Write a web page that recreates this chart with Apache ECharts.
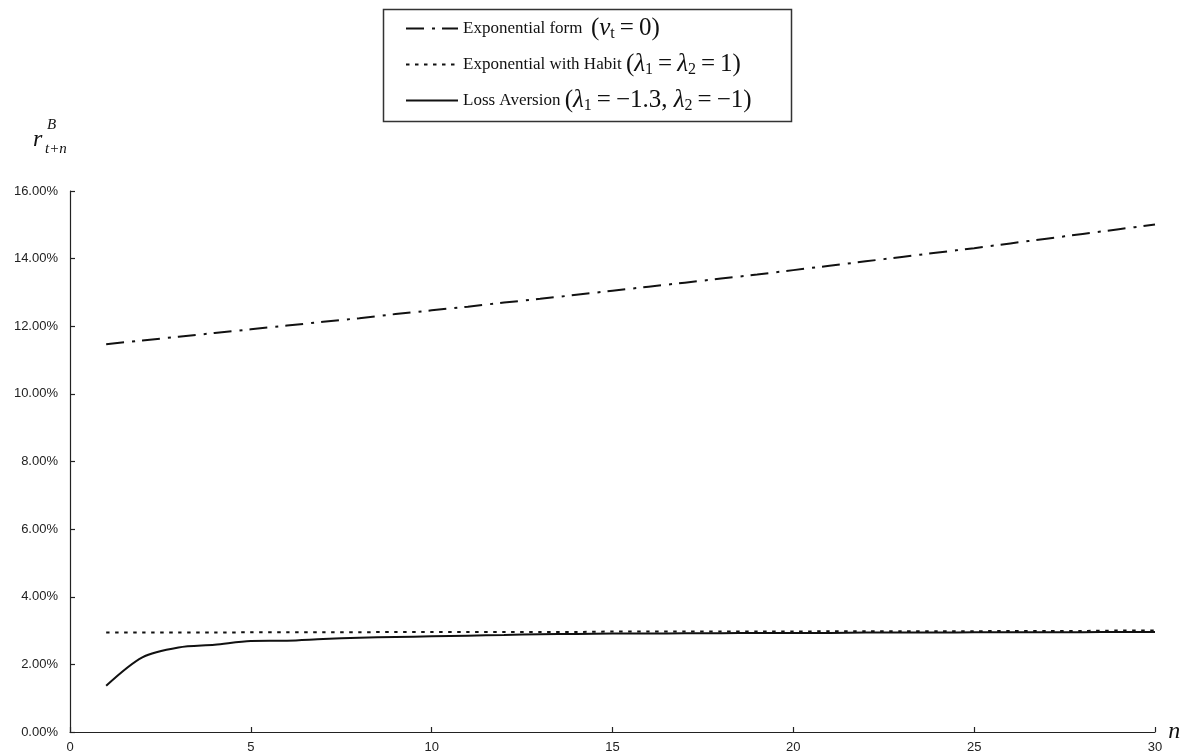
<!DOCTYPE html>
<html>
<head>
<meta charset="utf-8">
<script src="https://cdn.jsdelivr.net/npm/echarts@6/dist/echarts.min.js"></script>
<style>
html,body{margin:0;padding:0;background:#fff;}
#chart{width:1186px;height:756px;}
</style>
</head>
<body>
<div id="chart"></div>
<script>
// ---- data ----
const horizons = [1,2,3,4,5,6,7,8,9,10,11,12,13,14,15,16,17,18,19,20,21,22,23,24,25,26,27,28,29,30];
const exponentialForm = [11.47,11.58,11.69,11.80,11.91,12.02,12.13,12.24,12.36,12.47,12.58,12.70,12.81,12.93,13.05,13.17,13.29,13.41,13.53,13.66,13.79,13.92,14.05,14.18,14.31,14.45,14.59,14.73,14.87,15.01];
const habitForm = [2.94,2.94,2.94,2.94,2.95,2.95,2.95,2.95,2.96,2.96,2.96,2.96,2.96,2.96,2.97,2.97,2.97,2.97,2.97,2.97,2.98,2.98,2.98,2.98,2.98,2.99,2.99,2.99,3.00,3.00];
const lossAversion = [1.37,2.21,2.50,2.58,2.69,2.70,2.75,2.79,2.81,2.83,2.85,2.87,2.89,2.90,2.91,2.91,2.92,2.92,2.93,2.93,2.93,2.94,2.94,2.94,2.95,2.95,2.95,2.95,2.96,2.96];
const seriesNames = ['exp','habit','loss'];
const yTickLabels = v => v.toFixed(2) + '%';

const pairs = arr => horizons.map((n,i) => [n, arr[i]]);

const legendText = {
  exp:   '{t|Exponential form  }{m|(}{i|v}{s|t}{e|=}{m|0)}',
  habit: '{t|Exponential with Habit }{m|(}{i|λ}{s|1}{e|=}{i|λ}{s|2}{e|=}{m|1)}',
  loss:  '{t|Loss Aversion }{m|(}{i|λ}{s|1}{e|=}{m|−1.3, }{i|λ}{s|2}{e|=}{m|−1)}'
};

const serif = '"Liberation Serif", "DejaVu Serif", serif';
const ink = '#111';

const chart = echarts.init(document.getElementById('chart'), null, {renderer:'canvas'});
chart.setOption({
  animation: false,
  backgroundColor: '#fff',
  grid: {left: 70, right: 31, top: 191, bottom: 24, containLabel: false},
  xAxis: {
    type: 'value', min: 0, max: 30, interval: 5,
    name: 'n', nameLocation: 'end', nameGap: 9,
    nameTextStyle: {fontFamily: serif, fontStyle: 'italic', fontSize: 24, color: ink, verticalAlign: 'middle', padding:[0,0,8,0]},
    axisLine: {lineStyle: {color: '#222', width: 1.2}},
    axisTick: {inside: true, length: 5, lineStyle: {color: '#222', width: 1.2}},
    axisLabel: {color: '#222', fontFamily: '"Liberation Sans", Arial, sans-serif', fontSize: 13, margin: 9},
    splitLine: {show: false}
  },
  yAxis: {
    type: 'value', min: 0, max: 16, interval: 2,
    axisLine: {show: true, lineStyle: {color: '#222', width: 1.2}},
    axisTick: {show: true, inside: true, length: 5, lineStyle: {color: '#222', width: 1.2}},
    axisLabel: {color: '#222', fontFamily: '"Liberation Sans", Arial, sans-serif', fontSize: 13, margin: 12, formatter: yTickLabels},
    splitLine: {show: false}
  },
  legend: {
    orient: 'vertical', left: 405, top: 16, itemWidth: 52, itemHeight: 14, itemGap: 10.5,
    padding: 0, selectedMode: false,
    data: seriesNames,
    itemStyle: {opacity: 0, borderWidth: 0},
    formatter: name => legendText[name],
    textStyle: {
      color: ink,
      rich: {
        t: {fontFamily: serif, fontSize: 17, lineHeight: 26, color: ink},
        m: {fontFamily: serif, fontSize: 25, lineHeight: 26, color: ink},
        e: {fontFamily: serif, fontSize: 25, lineHeight: 26, color: ink, padding: [0, 5, 0, 5]},
        i: {fontFamily: serif, fontStyle: 'italic', fontSize: 25, lineHeight: 26, color: ink},
        s: {fontFamily: serif, fontSize: 16, lineHeight: 10, verticalAlign: 'bottom', color: ink}
      }
    }
  },
  graphic: [
    {type: 'rect', left: 381, top: 7, shape: {width: 408, height: 112}, style: {fill: 'none', stroke: '#333', lineWidth: 1.5}, silent: true},
    {type: 'text', left: 33, top: 128, style: {text: 'r', font: 'italic 24px "Liberation Serif", serif', fill: ink}},
    {type: 'text', left: 47, top: 118, style: {text: 'B', font: 'italic 15px "Liberation Serif", serif', fill: ink}},
    {type: 'text', left: 45, top: 142, style: {text: 't+n', font: 'italic 15px "Liberation Serif", serif', fill: ink}}
  ],
  series: [
    {name: 'exp', type: 'line', data: pairs(exponentialForm), symbol: 'none', smooth: 0.3,
     lineStyle: {color: ink, width: 2, type: [18, 8, 3, 7]}, itemStyle: {color: ink}},
    {name: 'habit', type: 'line', data: pairs(habitForm), symbol: 'none', smooth: 0.3,
     lineStyle: {color: ink, width: 2, type: [3.5, 5.5]}, itemStyle: {color: ink}},
    {name: 'loss', type: 'line', data: pairs(lossAversion), symbol: 'none', smooth: 0.3,
     lineStyle: {color: ink, width: 2, type: 'solid'}, itemStyle: {color: ink}}
  ]
});
</script>
</body>
</html>
